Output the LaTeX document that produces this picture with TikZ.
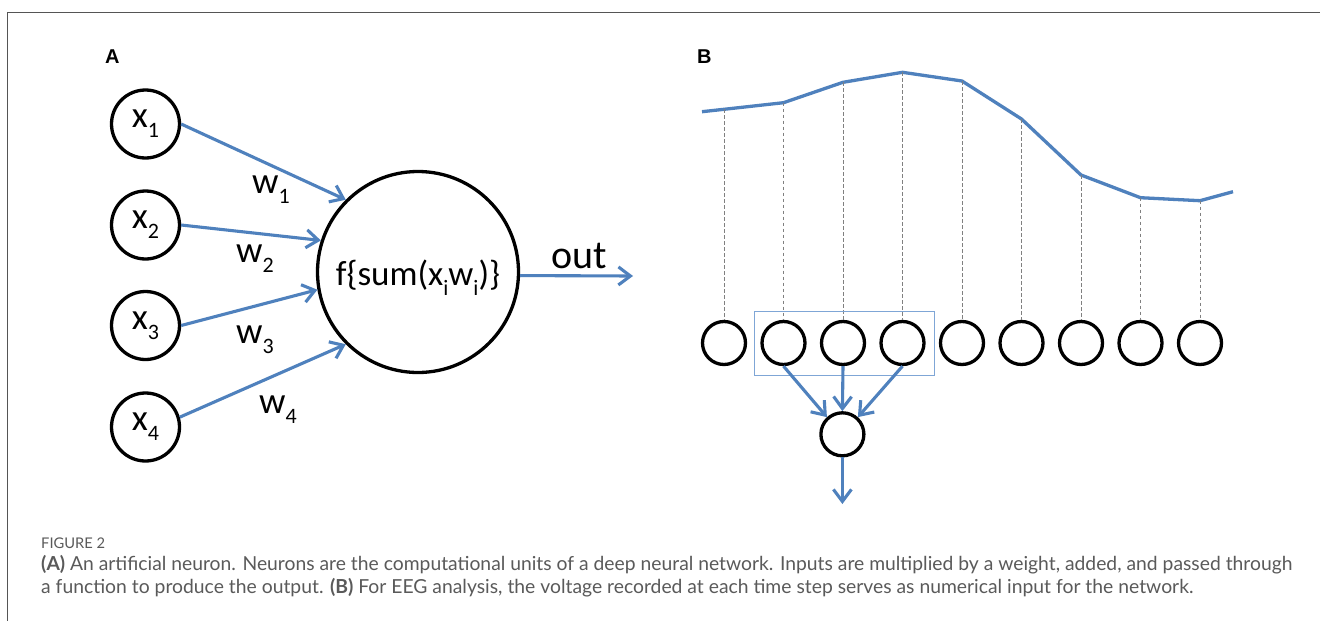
\documentclass[tikz,border=0pt]{standalone}
\usepackage{fontspec}
\usepackage{graphicx}
\setmainfont{Carlito}
\newfontfamily\capfont{Lato}
\newfontfamily\labfont{Liberation Sans}
\usetikzlibrary{arrows.meta,fit}
\definecolor{lineblue}{HTML}{4F81BD}
\definecolor{boxblue}{HTML}{7FA6D6}
\definecolor{capgray}{HTML}{5A5A5A}
\definecolor{framegray}{HTML}{555555}
\definecolor{guidegray}{HTML}{808080}
\newcommand\sbs[1]{\raisebox{-10pt}{\fontsize{22}{22}\selectfont #1}}
\begin{document}
\begin{tikzpicture}[x=1pt,y=-1pt,
  neuron/.style={circle,draw=black,line width=3.3pt,minimum size=68pt,inner sep=0pt,font=\fontsize{37}{40}\selectfont},
  bigneuron/.style={circle,draw=black,line width=3.3pt,minimum size=201pt,inner sep=0pt},
  tneuron/.style={circle,draw=black,line width=3.3pt,minimum size=43pt,inner sep=0pt},
  conn/.style={draw=lineblue,line width=3.1pt,-{Straight Barb[length=12pt,width=18pt]}},
  wlbl/.style={font=\fontsize{37}{40}\selectfont,inner sep=0pt,anchor=base west},
  panel/.style={font=\labfont\bfseries\fontsize{20}{22}\selectfont,inner sep=0pt,anchor=base west},
  guide/.style={draw=guidegray,line width=1pt,dash pattern=on 3.5pt off 2.5pt},
  signal/.style={draw=lineblue,line width=3.3pt,line join=round},
  groupbox/.style={draw=boxblue,line width=1.1pt,inner sep=0pt},
  captext/.style={font=\capfont,text=capgray,inner sep=0pt,anchor=base west},
  outerframe/.style={draw=framegray,line width=1.5pt}
]
\useasboundingbox (0,0) rectangle (1320,621);
\fill[white] (0,0) rectangle (1320,621);
\draw[outerframe] (7.3,621) -- (7.3,12.3) -- (1320,12.3);

% ---------- Panel A ----------
\node[panel] (labA) at (105,63.5) {A};
\node[neuron] (x1) at (145.5,124) {x\sbs{1}};
\node[neuron] (x2) at (145.5,225) {x\sbs{2}};
\node[neuron] (x3) at (145.5,325.5) {x\sbs{3}};
\node[neuron] (x4) at (145.5,427) {x\sbs{4}};
\node[bigneuron] (n) at (418,272) {};
\node[font=\fontsize{35}{40}\selectfont,inner sep=0pt,anchor=base] (f) at (418,285) {f\{sum(x\sbs{i}w\sbs{i})\}};
\coordinate (outend) at (633,276);
\draw[conn] (x1.east) -- (n.135);
\draw[conn] (x2.east) -- (n.162);
\draw[conn] (x3.east) -- (n.190);
\draw[conn] (x4.16) -- (n.225);
\draw[conn] (n.-2) -- (outend);
\node[wlbl] (w1) at (252,193) {w\sbs{1}};
\node[wlbl] (w2) at (236,262) {w\sbs{2}};
\node[wlbl] (w3) at (236,343) {w\sbs{3}};
\node[wlbl] (w4) at (259,413) {w\sbs{4}};
\node[font=\fontsize{40}{44}\selectfont,inner sep=0pt,anchor=base] (outl) at (579,268) {out};

% ---------- Panel B ----------
\node[panel] (labB) at (697,63.5) {B};
\coordinate (p0) at (702,111.7);
\coordinate (p1) at (724,109.3);
\coordinate (p2) at (783.5,102.7);
\coordinate (p3) at (843,82.3);
\coordinate (p4) at (902.5,72.3);
\coordinate (p5) at (962,81);
\coordinate (p6) at (1021.5,119);
\coordinate (p7) at (1081,175);
\coordinate (p8) at (1140.5,197.7);
\coordinate (p9) at (1200,200.7);
\coordinate (p10) at (1233,191.7);
\draw[signal] (p0) -- (p1) -- (p2) -- (p3) -- (p4) -- (p5) -- (p6) -- (p7) -- (p8) -- (p9) -- (p10);
\foreach \i in {1,...,9} {
  \node[tneuron] (c\i) at ({724+59.5*(\i-1)},343) {};
  \draw[guide] (p\i) -- (c\i.north);
}
\node[groupbox,fit={(754.7,311.7) (934.3,375.7)}] (grp) {};
\node[tneuron] (h) at (842.4,434.3) {};
\coordinate (hend) at (842.4,504);
\draw[conn] (c2.south) -- (h.132);
\draw[conn] (c3.south) -- (h.north);
\draw[conn] (c4.south) -- (h.48);
\draw[conn] (h.south) -- (hend);

% ---------- Caption ----------
\node[captext] (fig) at (41,548) {\resizebox{64pt}{!}{FIGURE 2}};
\node[captext] (cl1) at (41,570) {\resizebox{1251pt}{!}{\textbf{(A)} An artificial neuron. Neurons are the computational units of a deep neural network. Inputs are multiplied by a weight, added, and passed through}};
\node[captext] (cl2) at (41,593) {\resizebox{1152pt}{!}{a function to produce the output. \textbf{(B)} For EEG analysis, the voltage recorded at each time step serves as numerical input for the network.}};
\end{tikzpicture}
\end{document}
